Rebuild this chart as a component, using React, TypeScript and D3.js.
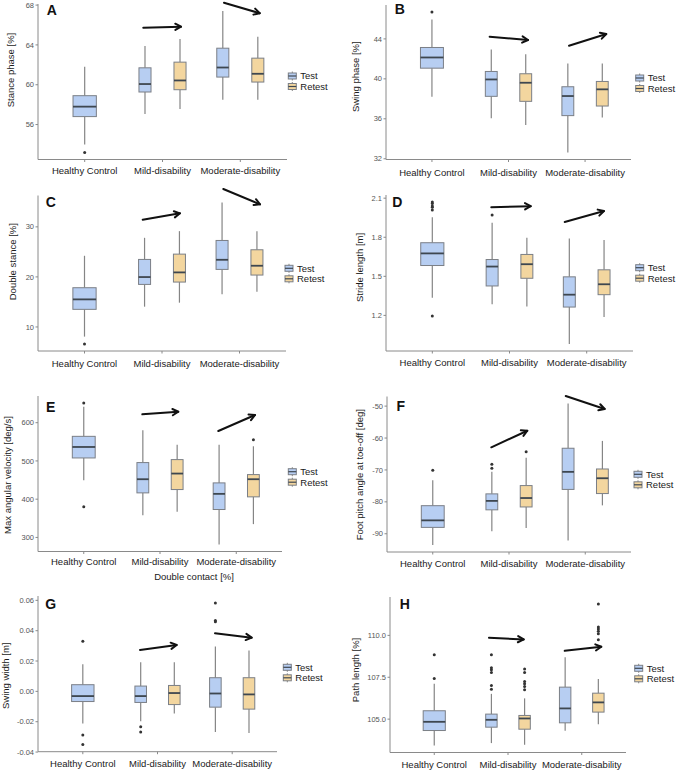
import React from "react";
import * as d3 from "d3";

const categories = ["Healthy Control", "Mild-disability", "Moderate-disability"];
const sessions = ["Test", "Retest"];
// groups: HC Test, Mild Test, Mild Retest, Moderate Test, Moderate Retest
const groupCategory = [0, 1, 1, 2, 2];
const groupSession = [0, 0, 1, 0, 1];

// stats per group: [lower whisker, q1, median, q3, upper whisker]
const stanceStats = [
  [54.0, 56.8, 57.8, 58.9, 61.8],
  [57.07, 59.27, 60.07, 61.7, 63.9],
  [57.57, 59.5, 60.43, 62.27, 64.6],
  [58.5, 60.77, 61.73, 63.67, 67.4],
  [58.5, 60.27, 61.1, 62.67, 64.83],
];
const stanceOutliers = [[53.2], [], [], [], []];
const stanceTicks = [56, 60, 64, 68];
const stanceArrows = [[0.753, 65.73, 1.238, 65.83], [1.79, 68.24, 2.25, 67.18]];

const swingStats = [
  [38.22, 41.07, 42.14, 43.14, 45.93],
  [36.05, 38.25, 39.94, 40.74, 42.94],
  [35.39, 37.75, 39.61, 40.51, 42.47],
  [32.63, 36.32, 38.28, 39.21, 41.54],
  [36.12, 37.28, 38.95, 39.74, 41.54],
];
const swingOutliers = [[46.69], [], [], [], []];
const swingTicks = [32, 36, 40, 44];
const swingArrows = [[0.754, 44.22, 1.255, 43.89], [1.79, 43.32, 2.277, 44.49]];

const doubleStats = [
  [8.07, 13.52, 15.51, 17.84, 24.22],
  [14.05, 18.5, 19.97, 23.49, 27.81],
  [14.85, 18.97, 20.9, 24.55, 29.14],
  [16.51, 21.5, 23.42, 27.28, 34.85],
  [17.04, 20.37, 22.23, 25.42, 29.14],
];
const doubleOutliers = [[6.61], [], [], [], []];
const doubleTicks = [10, 20, 30];
const doubleArrows = [[0.751, 31.43, 1.232, 32.7], [1.791, 37.56, 2.265, 34.5]];

const strideStats = [
  [1.336, 1.583, 1.676, 1.758, 1.953],
  [1.285, 1.426, 1.575, 1.629, 1.912],
  [1.269, 1.485, 1.593, 1.668, 1.797],
  [0.981, 1.264, 1.359, 1.496, 1.791],
  [1.187, 1.359, 1.439, 1.55, 1.779],
];
const strideOutliers = [[1.195, 2.01, 2.03, 2.04, 2.06, 2.07], [1.971], [], [], []];
const strideTicks = [1.2, 1.5, 1.8, 2.1];
const strideArrows = [[0.764, 2.031, 1.275, 2.039], [1.715, 1.917, 2.224, 2.001]];

const velocityStats = [
  [449.6, 507.8, 536.5, 564.3, 642],
  [358.3, 416.5, 452.2, 495.7, 580],
  [367, 425.2, 467, 503.5, 542.6],
  [281.7, 373, 413.9, 442.6, 542.6],
  [334.8, 406.1, 452.2, 464.3, 538.3],
];
const velocityOutliers = [[380, 651.3], [], [], [], [555.7]];
const velocityTicks = [300, 400, 500, 600];
const velocityArrows = [[0.768, 621.9, 1.24, 628.7], [1.765, 578.3, 2.246, 620.1]];

const pitchStats = [
  [-93.5, -88.0, -85.8, -81.2, -73.2],
  [-89.2, -82.5, -79.7, -77.5, -70.6],
  [-88.2, -81.6, -78.8, -74.9, -66.2],
  [-92.1, -76.1, -70.6, -63.2, -49.2],
  [-81.1, -77.4, -72.6, -69.7, -60.9],
];
const pitchOutliers = [[-70.1], [-68.2, -69.5], [-64.3], [], []];
const pitchTicks = [-90, -80, -70, -60, -50];
const pitchArrows = [[0.768, -62.91, 1.24, -57.71], [1.744, -46.83, 2.255, -50.91]];

const widthStats = [
  [-0.0212, -0.0067, -0.0031, 0.0044, 0.0178],
  [-0.0197, -0.0073, -0.0031, 0.0035, 0.0192],
  [-0.0146, -0.0087, -0.0011, 0.0039, 0.0192],
  [-0.0268, -0.0104, -0.0014, 0.009, 0.0295],
  [-0.0274, -0.0117, -0.002, 0.009, 0.0269],
];
const widthOutliers = [[0.0331, -0.0287, -0.0351], [-0.0234, -0.0268], [], [0.0582, 0.0467, 0.0459], []];
const widthTicks = [-0.04, -0.02, 0.0, 0.02, 0.04, 0.06];
const widthArrows = [[0.766, 0.02728, 1.257, 0.03058], [1.77, 0.0383, 2.261, 0.0354]];

const pathStats = [
  [103.43, 104.32, 104.84, 105.5, 107.11],
  [103.57, 104.52, 104.96, 105.3, 106.51],
  [103.47, 104.4, 105.04, 105.22, 106.24],
  [104.3, 104.78, 105.64, 106.91, 108.69],
  [104.7, 105.42, 106.0, 106.55, 107.39],
];
const pathOutliers = [
  [107.43, 108.84],
  [106.79, 107.01, 107.79, 107.95, 108.07, 108.84],
  [106.75, 106.95, 107.11, 107.25, 107.79, 107.99],
  [],
  [109.74, 110.1, 110.24, 110.38, 110.5, 111.87],
];
const pathTicks = [105.0, 107.5, 110.0];
const pathArrows = [[0.742, 109.86, 1.213, 109.76], [1.769, 109.08, 2.265, 109.32]];

const fillColors = ["#b7cef2", "#f3d69f"];
const FONT = "'Liberation Sans', Arial, Helvetica, sans-serif";

const panels = [
  { label: "A", title: "Stance phase [%]", stats: stanceStats, outliers: stanceOutliers, ticks: stanceTicks, fmt: "d", arrows: stanceArrows,
    box: { l: 38, r: 287, t: 4, b: 159.5 }, titlePos: [11, 70], labelPos: [51.7, 10], legend: [288.3, 76], xLabelY: 171 },
  { label: "B", title: "Swing phase [%]", stats: swingStats, outliers: swingOutliers, ticks: swingTicks, fmt: "d", arrows: swingArrows,
    box: { l: 386, r: 631, t: 5, b: 159.5 }, titlePos: [355.5, 76.7], labelPos: [399.7, 9.3], legend: [635.7, 78], xLabelY: 172.3 },
  { label: "C", title: "Double stance [%]", stats: doubleStats, outliers: doubleOutliers, ticks: doubleTicks, fmt: "d", arrows: doubleArrows,
    box: { l: 38, r: 286, t: 195.5, b: 351 }, titlePos: [12.5, 261.7], labelPos: [50.7, 201.7], legend: [285, 268.3], xLabelY: 363.3 },
  { label: "D", title: "Stride length [m]", stats: strideStats, outliers: strideOutliers, ticks: strideTicks, fmt: ".1f", arrows: strideArrows,
    box: { l: 386, r: 633, t: 195, b: 351 }, titlePos: [359.3, 267.5], labelPos: [397.3, 201.7], legend: [635.7, 267.7], xLabelY: 363 },
  { label: "E", title: "Max angular velocity [deg/s]", stats: velocityStats, outliers: velocityOutliers, ticks: velocityTicks, fmt: "d", arrows: velocityArrows,
    box: { l: 38, r: 282, t: 396, b: 551.5 }, titlePos: [7.5, 475], labelPos: [50.7, 406.7], legend: [288.3, 471.7], xLabelY: 561.7,
    xTitle: "Double contact [%]", xTitlePos: [194, 576.7] },
  { label: "F", title: "Foot pitch angle at toe-off [deg]", stats: pitchStats, outliers: pitchOutliers, ticks: pitchTicks, fmt: "d", arrows: pitchArrows,
    box: { l: 387, r: 631, t: 396.5, b: 552 }, titlePos: [359.3, 474.7], labelPos: [400.7, 406], legend: [634, 474.3], xLabelY: 563.3 },
  { label: "G", title: "Swing width [m]", stats: widthStats, outliers: widthOutliers, ticks: widthTicks, fmt: ".2f", arrows: widthArrows,
    box: { l: 38, r: 277, t: 596, b: 751.7 }, titlePos: [5.8, 675.8], labelPos: [50.7, 604], legend: [283.3, 667.3], xLabelY: 763.3 },
  { label: "H", title: "Path length [%]", stats: pathStats, outliers: pathOutliers, ticks: pathTicks, fmt: ".1f", arrows: pathArrows,
    box: { l: 390, r: 626, t: 597, b: 752.5 }, titlePos: [355.2, 670], labelPos: [404.7, 604], legend: [634.7, 668.3], xLabelY: 764.3 },
];

function Arrow({ x1, y1, x2, y2 }: any) {
  const ang = Math.atan2(y2 - y1, x2 - x1);
  const len = 6.5;
  const spread = 0.5;
  const ax = x2 - len * Math.cos(ang - spread);
  const ay = y2 - len * Math.sin(ang - spread);
  const bx = x2 - len * Math.cos(ang + spread);
  const by = y2 - len * Math.sin(ang + spread);
  return (
    <g stroke="#111" strokeWidth={2} fill="none" strokeLinecap="round" strokeLinejoin="round">
      <line x1={x1} y1={y1} x2={x2} y2={y2} />
      <polyline points={`${ax},${ay} ${x2},${y2} ${bx},${by}`} />
    </g>
  );
}

function Panel({ p }: any) {
  const x = d3.scalePoint<string>().domain(categories).range([p.box.l, p.box.r]).padding(0.6);
  const step = x.step();
  const all: number[] = [...p.stats.flat(), ...p.outliers.flat()];
  const [mn, mx] = d3.extent(all) as [number, number];
  const pad = (mx - mn) * 0.05;
  const y = d3.scaleLinear().domain([mn - pad, mx + pad]).range([p.box.b, p.box.t]);
  const fmt = (v: number) => d3.format(p.fmt)(v).replace("\u2212", "-");
  const catCount = categories.map((_, ci) => groupCategory.filter((c) => c === ci).length);
  const x0 = x(categories[0]) as number;

  return (
    <g>
      {/* axes */}
      <line x1={p.box.l} x2={p.box.l} y1={p.box.t} y2={p.box.b} stroke="#8a8a8a" strokeWidth={1} />
      <line x1={p.box.l} x2={p.box.r} y1={p.box.b} y2={p.box.b} stroke="#8a8a8a" strokeWidth={1} />
      {p.ticks.map((t: number) => (
        <g key={t}>
          <line x1={p.box.l - 2.5} x2={p.box.l} y1={y(t)} y2={y(t)} stroke="#8a8a8a" />
          <text x={p.box.l - 4} y={y(t)} dy="0.35em" textAnchor="end" fontSize={7.5} fill="#555" fontFamily={FONT}>
            {fmt(t)}
          </text>
        </g>
      ))}
      {categories.map((c) => (
        <g key={c}>
          <line x1={x(c)} x2={x(c)} y1={p.box.b} y2={p.box.b + 2.5} stroke="#8a8a8a" />
          <text x={x(c)} y={p.xLabelY} dy="0.35em" textAnchor="middle" fontSize={9.5} fill="#1a1a1a" fontFamily={FONT}>
            {c}
          </text>
        </g>
      ))}
      <text
        transform={`translate(${p.titlePos[0]},${p.titlePos[1]}) rotate(-90)`}
        textAnchor="middle"
        dy="0.35em"
        fontSize={9.5}
        fill="#1a1a1a"
        fontFamily={FONT}
      >
        {p.title}
      </text>
      {p.xTitle && (
        <text x={p.xTitlePos[0]} y={p.xTitlePos[1]} dy="0.35em" textAnchor="middle" fontSize={9.5} fill="#1a1a1a" fontFamily={FONT}>
          {p.xTitle}
        </text>
      )}
      {/* boxes */}
      {p.stats.map((s: number[], gi: number) => {
        const ci = groupCategory[gi];
        const si = groupSession[gi];
        const dodged = catCount[ci] > 1;
        const w = (dodged ? 0.155 : 0.3) * step;
        const off = dodged ? (si === 0 ? -0.225 : 0.225) * step : 0;
        const cx = (x(categories[ci]) as number) + off;
        const [lo, q1, med, q3, hi] = s;
        return (
          <g key={gi}>
            <line x1={cx} x2={cx} y1={y(hi)} y2={y(q3)} stroke="#858585" strokeWidth={1.2} />
            <line x1={cx} x2={cx} y1={y(q1)} y2={y(lo)} stroke="#858585" strokeWidth={1.2} />
            <rect x={cx - w / 2} y={y(q3)} width={w} height={y(q1) - y(q3)} fill={fillColors[si]} stroke="#7b7f86" strokeWidth={1} />
            <line x1={cx - w / 2} x2={cx + w / 2} y1={y(med)} y2={y(med)} stroke="#3e4750" strokeWidth={1.8} />
            {p.outliers[gi].map((o: number, oi: number) => (
              <circle key={oi} cx={cx} cy={y(o)} r={1.5} fill="#333" />
            ))}
          </g>
        );
      })}
      {/* arrows */}
      {p.arrows.map((a: number[], ai: number) => (
        <Arrow key={ai} x1={x0 + a[0] * step} y1={y(a[1])} x2={x0 + a[2] * step} y2={y(a[3])} />
      ))}
      {/* panel label */}
      <text x={p.labelPos[0]} y={p.labelPos[1]} dy="0.35em" textAnchor="middle" fontSize={14} fontWeight="bold" fill="#111" fontFamily={FONT}>
        {p.label}
      </text>
      {/* legend */}
      {sessions.map((s, si) => {
        const kx = p.legend[0];
        const ky = p.legend[1] + si * 10.5;
        return (
          <g key={s}>
            <line x1={kx + 4} x2={kx + 4} y1={ky - 4.5} y2={ky + 4.5} stroke="#858585" />
            <rect x={kx} y={ky - 3} width={8} height={6} fill={fillColors[si]} stroke="#7b7f86" strokeWidth={1} />
            <line x1={kx} x2={kx + 8} y1={ky} y2={ky} stroke="#3e4750" strokeWidth={1.2} />
            <text x={kx + 12} y={ky} dy="0.35em" fontSize={9.5} fill="#1a1a1a" fontFamily={FONT}>
              {s}
            </text>
          </g>
        );
      })}
    </g>
  );
}

export default function App() {
  return (
    <svg
      width={676}
      height={772}
      viewBox="0 0 676 772"
      style={{ position: "absolute", left: 0, top: 0, background: "#fff", display: "block" }}
    >
      <rect x={0} y={0} width={676} height={772} fill="#fff" />
      {panels.map((p) => (
        <Panel key={p.label} p={p} />
      ))}
    </svg>
  );
}
